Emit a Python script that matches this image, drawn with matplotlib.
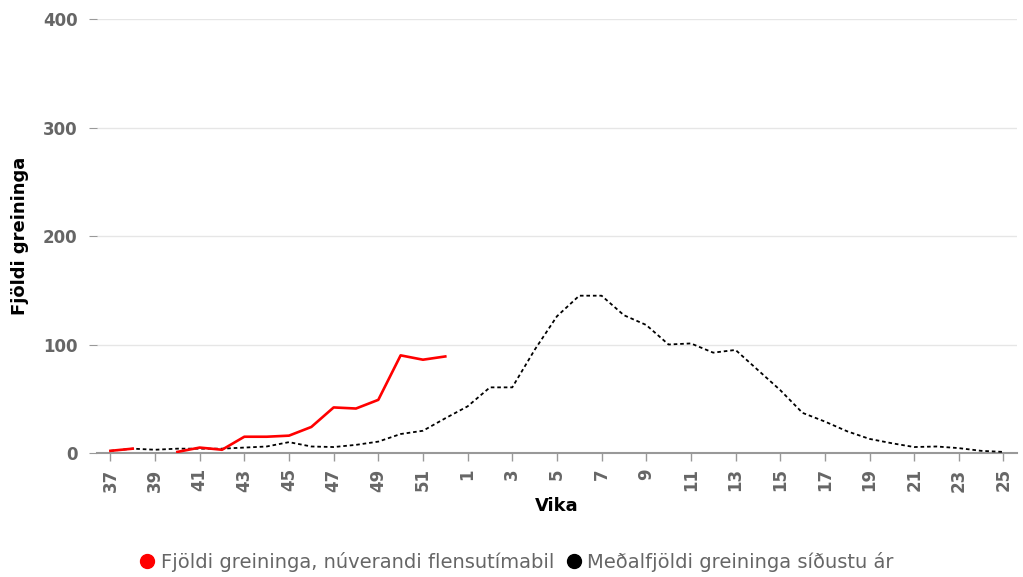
import numpy as np
import matplotlib.pyplot as plt
from matplotlib.lines import Line2D

weeks = list(range(37, 53)) + list(range(1, 26))
current = [2, 4, np.nan, 1, 5, 3, 15, 15, 16, 24, 42, 41, 49, 90, 86, 89]
average = [2, 4, 3, 4, 4, 4, 5, 6, 10, 6, 5.5, 7.5, 10.5, 17.5, 20.5, 32,
           43, 60.5, 60.5, 95, 126, 145, 145, 127, 118, 100, 101, 92.5, 95,
           76.5, 58, 37, 29, 20, 13, 9, 5.5, 6, 4.5, 2, 1]

gray = "#666666"
x = np.arange(len(weeks))

fig = plt.figure(figsize=(10.23, 5.77), dpi=100)
ax = fig.add_axes([0.0948, 0.2149, 0.8992, 0.7521])

ax.plot(x, average, color="black", lw=1.3, linestyle=(0, (2, 1.6)), zorder=3)
ax.plot(x[:len(current)], current, color="#ff0000", lw=1.9, zorder=4)

ax.set_ylim(0, 400)
ax.set_xlim(-0.6, 40.6)
ax.set_yticks([0, 100, 200, 300, 400])
ax.yaxis.grid(True, color="#e6e6e6", lw=1)
ax.set_axisbelow(True)

ax.set_xticks(x[::2])
ax.set_xticklabels([str(w) for w in weeks[::2]], rotation=90)

for s in ["top", "right", "left"]:
    ax.spines[s].set_visible(False)
ax.spines["bottom"].set_color("#999999")
ax.spines["bottom"].set_linewidth(1.5)

ax.tick_params(axis="y", length=6, color="#999999", labelsize=12, labelcolor=gray, pad=8)
ax.tick_params(axis="x", length=6, color="#999999", width=1, labelsize=12, labelcolor=gray, pad=5)
for lab in ax.get_xticklabels() + ax.get_yticklabels():
    lab.set_fontweight("bold")

ax.set_ylabel("Fjöldi greininga", fontsize=13, fontweight="bold", labelpad=10)
ax.set_xlabel("Vika", fontsize=13, fontweight="bold", labelpad=4)

handles = [
    Line2D([], [], marker="o", color="none", markerfacecolor="#ff0000", markeredgecolor="#ff0000", markersize=10),
    Line2D([], [], marker="o", color="none", markerfacecolor="black", markeredgecolor="black", markersize=10),
]
leg = fig.legend(handles, ["Fjöldi greininga, núverandi flensutímabil", "Meðalfjöldi greininga síðustu ár"],
                 loc="center", bbox_to_anchor=(0.505, 0.026), ncol=2, frameon=False,
                 fontsize=14, handlelength=0.8, handletextpad=0.3, columnspacing=0.6)
for t in leg.get_texts():
    t.set_color(gray)

fig.savefig("out.png", dpi=100)
